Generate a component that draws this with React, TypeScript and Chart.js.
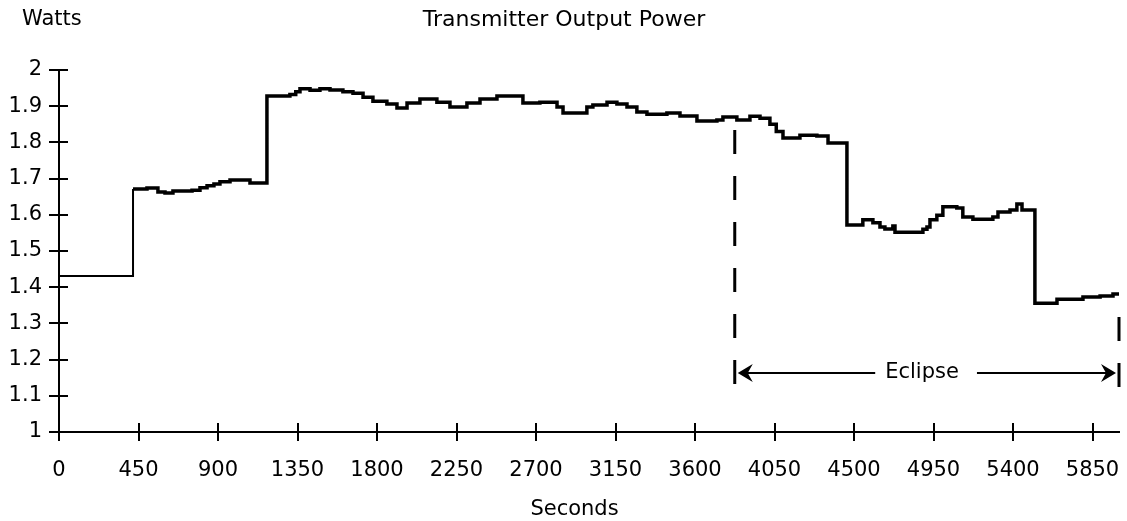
import { useEffect, useRef } from "react";
import { Chart, registerables } from "chart.js";

Chart.register(...registerables);

// Time (s) at which each level starts, and the level (W)
const T_SEC = [
  0, 419, 498, 560, 600, 645, 753, 798, 838, 877, 911, 968, 1081,
  1177, 1307, 1340, 1364, 1421, 1477, 1534, 1607, 1664, 1721, 1777, 1856,
  1913, 1970, 2043, 2139, 2213, 2309, 2383, 2479, 2626, 2722, 2819, 2853,
  2988, 3022, 3102, 3158, 3215, 3271, 3328, 3441, 3515, 3611, 3724, 3758,
  3837, 3911, 3968, 4024, 4060, 4098, 4194, 4290, 4353,
  4460, 4550, 4607, 4647, 4675, 4720, 4732, 4890, 4913, 4930, 4969, 5003,
  5082, 5116, 5173, 5286, 5315, 5383, 5422, 5451,
  5524, 5604, 5649, 5796, 5893, 5966, 6000,
];
const WATTS = [
  1.431, 1.671, 1.674, 1.663, 1.66, 1.666, 1.668, 1.675, 1.68, 1.685, 1.691, 1.696, 1.688,
  1.928, 1.932, 1.94, 1.948, 1.944, 1.948, 1.945, 1.94, 1.936, 1.925, 1.914, 1.906,
  1.895, 1.909, 1.92, 1.911, 1.898, 1.909, 1.92, 1.928, 1.909, 1.911, 1.898, 1.881,
  1.898, 1.903, 1.911, 1.906, 1.898, 1.884, 1.878, 1.881, 1.873, 1.859, 1.862, 1.87,
  1.862, 1.872, 1.867, 1.85, 1.83, 1.812, 1.82, 1.818, 1.798,
  1.572, 1.586, 1.578, 1.566, 1.561, 1.569, 1.552, 1.56, 1.566, 1.586, 1.599, 1.622,
  1.619, 1.594, 1.588, 1.594, 1.608, 1.613, 1.63, 1.613,
  1.356, 1.356, 1.367, 1.373, 1.376, 1.381, 1.381,
];

const X_TICKS = [0, 450, 900, 1350, 1800, 2250, 2700, 3150, 3600, 4050, 4500, 4950, 5400, 5850];
const Y_TICKS = [1, 1.1, 1.2, 1.3, 1.4, 1.5, 1.6, 1.7, 1.8, 1.9, 2];
const Y_TICK_LABELS = ["1", "1.1", "1.2", "1.3", "1.4", "1.5", "1.6", "1.7", "1.8", "1.9", "2"];

const X_MIN = 0;
const X_MAX = 6000;
const Y_MIN = 1;
const Y_MAX = 2;

const ECLIPSE_START = 3825;
const ECLIPSE_END = 6000;
const ECLIPSE_LABEL = "Eclipse";
const ECLIPSE_LABEL_X = 4885;
const ECLIPSE_ARROW_Y = 1.163;
const ECLIPSE_LEFT_LINE_END = 4620;
const ECLIPSE_RIGHT_LINE_START = 5196;
const DASH_LEFT_TOP = 1.834;
const DASH_RIGHT_TOP = 1.318;
const DASH_BOTTOM = 1.124;

const TITLE = "Transmitter Output Power";
const Y_LABEL = "Watts";
const X_LABEL = "Seconds";
const X_LABEL_AT = 2918; // seconds, centre of the axis title

const FONT = "'DejaVu Sans', sans-serif";

export default function App() {
  const ref = useRef<HTMLCanvasElement | null>(null);

  useEffect(() => {
    if (!ref.current) return;

    const annot = {
      id: "annot",
      afterDraw(chart: any) {
        const { ctx, chartArea, scales } = chart;
        const x = scales.x;
        const y = scales.y;
        ctx.save();
        ctx.strokeStyle = "#000";
        ctx.fillStyle = "#000";

        // crossing tick marks
        ctx.lineWidth = 2;
        ctx.beginPath();
        Y_TICKS.forEach((v) => {
          const py = Math.round(y.getPixelForValue(v));
          ctx.moveTo(chartArea.left - 10, py);
          ctx.lineTo(chartArea.left + 9, py);
        });
        X_TICKS.forEach((v) => {
          const px = Math.round(x.getPixelForValue(v));
          ctx.moveTo(px, chartArea.bottom - 9);
          ctx.lineTo(px, chartArea.bottom + 9);
        });
        ctx.moveTo(chartArea.left, chartArea.bottom);
        ctx.lineTo(chartArea.left, chartArea.bottom + 9);
        ctx.stroke();

        // dashed eclipse boundaries
        ctx.lineWidth = 3;
        ctx.setLineDash([24, 22]);
        const xl = x.getPixelForValue(ECLIPSE_START);
        const xr = x.getPixelForValue(ECLIPSE_END);
        ctx.beginPath();
        ctx.moveTo(xl, y.getPixelForValue(DASH_LEFT_TOP));
        ctx.lineTo(xl, y.getPixelForValue(DASH_BOTTOM));
        ctx.stroke();
        ctx.beginPath();
        ctx.moveTo(xr, y.getPixelForValue(DASH_RIGHT_TOP));
        ctx.lineTo(xr, y.getPixelForValue(DASH_BOTTOM));
        ctx.stroke();
        ctx.setLineDash([]);

        // arrows
        const ay = y.getPixelForValue(ECLIPSE_ARROW_Y);
        const tl = xl + 3;
        const tr = xr - 3;
        ctx.lineWidth = 2;
        ctx.beginPath();
        ctx.moveTo(tl + 8, ay);
        ctx.lineTo(x.getPixelForValue(ECLIPSE_LEFT_LINE_END), ay);
        ctx.moveTo(x.getPixelForValue(ECLIPSE_RIGHT_LINE_START), ay);
        ctx.lineTo(tr - 8, ay);
        ctx.stroke();
        ctx.beginPath();
        ctx.moveTo(tl, ay);
        ctx.lineTo(tl + 15, ay - 9);
        ctx.lineTo(tl + 10, ay);
        ctx.lineTo(tl + 15, ay + 9);
        ctx.closePath();
        ctx.fill();
        ctx.beginPath();
        ctx.moveTo(tr, ay);
        ctx.lineTo(tr - 15, ay - 9);
        ctx.lineTo(tr - 10, ay);
        ctx.lineTo(tr - 15, ay + 9);
        ctx.closePath();
        ctx.fill();

        ctx.font = `21px ${FONT}`;
        ctx.textAlign = "center";
        ctx.textBaseline = "middle";
        ctx.fillText(ECLIPSE_LABEL, x.getPixelForValue(ECLIPSE_LABEL_X), ay);

        // x axis title
        ctx.fillText(X_LABEL, x.getPixelForValue(X_LABEL_AT), 510);

        // y unit label
        ctx.textAlign = "left";
        ctx.fillText(Y_LABEL, 22, 20);
        ctx.restore();
      },
    };

    const chart = new Chart(ref.current, {
      type: "line",
      data: {
        datasets: [
          {
            data: T_SEC.map((t, i) => ({ x: t, y: WATTS[i] })),
            borderColor: "#000",
            borderWidth: 3.5,
            stepped: true,
            pointRadius: 0,
            fill: false,
            segment: {
              borderWidth: (c: any) => (c.p0DataIndex === 0 ? 2 : 3.5),
            },
          },
        ],
      },
      options: {
        animation: false,
        responsive: false,
        devicePixelRatio: 1,
        layout: { padding: { top: 0, left: 1, right: 0, bottom: 0 } },
        plugins: {
          legend: { display: false },
          tooltip: { enabled: false },
          title: {
            display: true,
            text: TITLE,
            color: "#000",
            font: { family: FONT, size: 22, weight: "normal", lineHeight: 1.2 },
            padding: { top: 7, bottom: 36.6 },
          },
        },
        scales: {
          x: {
            type: "linear",
            min: X_MIN,
            max: X_MAX,
            grid: { display: false, drawTicks: false },
            border: { display: true, color: "#000", width: 2 },
            afterBuildTicks: (s: any) => {
              s.ticks = X_TICKS.map((v) => ({ value: v }));
            },
            afterFit: (s: any) => {
              s.height = 89;
              s.paddingLeft = 0;
              s.paddingRight = 8;
            },
            ticks: {
              color: "#000",
              padding: 26,
              maxRotation: 0,
              autoSkip: false,
              font: { family: FONT, size: 21 },
              callback: (v: any) => String(v),
            },
            title: { display: false, text: X_LABEL },
          },
          y: {
            type: "linear",
            min: Y_MIN,
            max: Y_MAX,
            grid: { display: false, drawTicks: false },
            border: { display: true, color: "#000", width: 2 },
            afterBuildTicks: (s: any) => {
              s.ticks = Y_TICKS.map((v) => ({ value: v }));
            },
            afterFit: (s: any) => {
              s.width = 58;
            },
            ticks: {
              color: "#000",
              padding: 17,
              autoSkip: false,
              font: { family: FONT, size: 21 },
              callback: (v: any) => {
                const i = Y_TICKS.findIndex((t) => Math.abs(t - v) < 1e-6);
                return i >= 0 ? Y_TICK_LABELS[i] : "";
              },
            },
          },
        },
      },
      plugins: [annot],
    });

    return () => chart.destroy();
  }, []);

  return (
    <div style={{ position: "absolute", left: 0, top: 0, width: 1127, height: 521, background: "#fff" }}>
      <canvas ref={ref} width={1127} height={521} />
    </div>
  );
}
